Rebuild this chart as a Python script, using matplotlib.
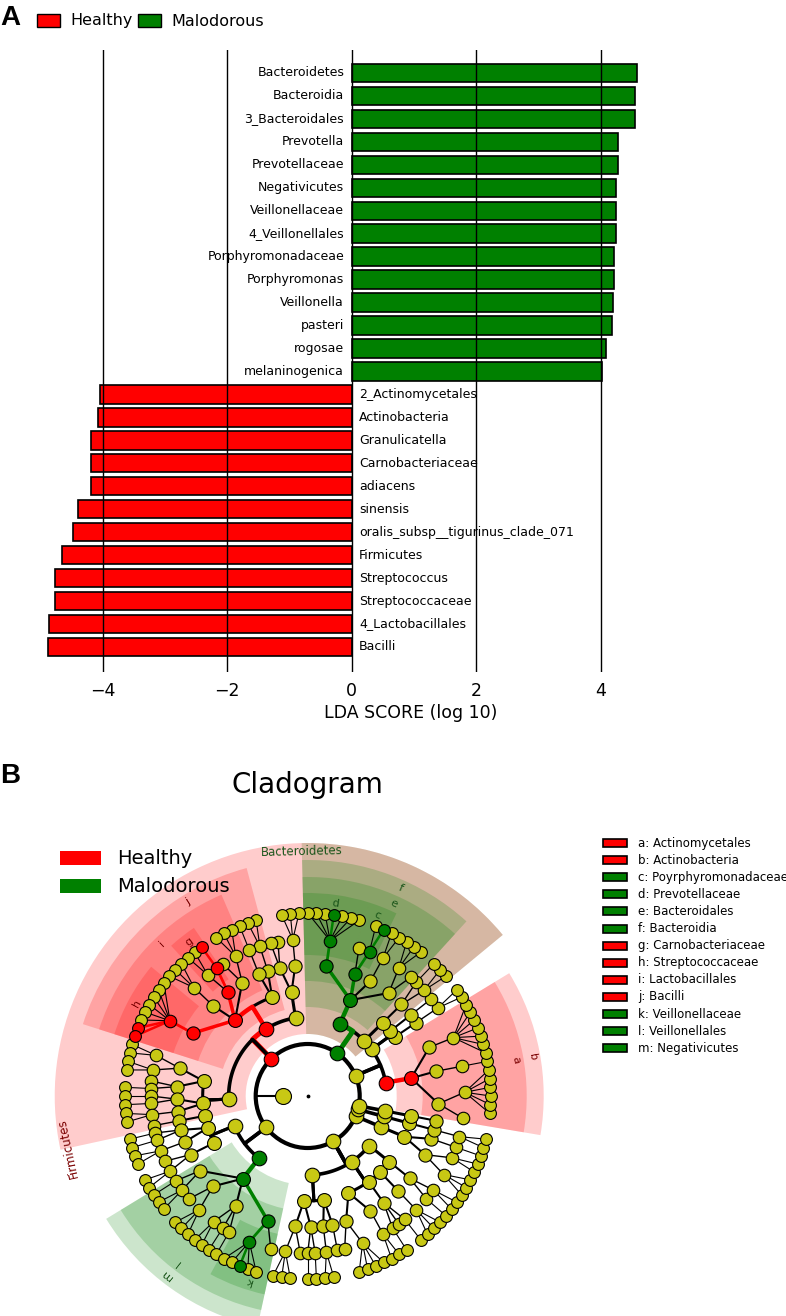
import numpy as np
import matplotlib.pyplot as plt
from matplotlib.patches import Wedge, Rectangle, Circle

W, H = 786, 1316

# ---- panel A : LDA scores
mal_taxa = ['Bacteroidetes', 'Bacteroidia', '3_Bacteroidales', 'Prevotella', 'Prevotellaceae',
            'Negativicutes', 'Veillonellaceae', '4_Veillonellales', 'Porphyromonadaceae',
            'Porphyromonas', 'Veillonella', 'pasteri', 'rogosae', 'melaninogenica']
mal_lda = [4.58, 4.56, 4.56, 4.28, 4.28, 4.25, 4.25, 4.25, 4.22, 4.22, 4.20, 4.18, 4.09, 4.03]
hea_taxa = ['2_Actinomycetales', 'Actinobacteria', 'Granulicatella', 'Carnobacteriaceae', 'adiacens',
            'sinensis', 'oralis_subsp__tigurinus_clade_071', 'Firmicutes', 'Streptococcus',
            'Streptococcaceae', '4_Lactobacillales', 'Bacilli']
hea_lda = [4.04, 4.07, 4.18, 4.18, 4.18, 4.40, 4.48, 4.66, 4.76, 4.76, 4.87, 4.88]
group_names = ['Healthy', 'Malodorous']
group_colors = ['#ff0000', '#008000']

# ---- panel B : cladogram
# int n -> node with n terminal children, list -> plain node,
# (group, label, children) -> biomarker node ('r' healthy, 'g' malodorous)
actino = [
    ('r', 'b', [('r', 'a', [[0, 6], [1], [7]])]),
    [[[2]], [[0]]],
]
bactero = ('g', 'Bacteroidetes', [
    [[[2, 1]]],
    ('g', 'f', [
        ('g', 'e', [
            [0, 3],
            [2],
            ('g', 'c', [('g', '', [('g', '', 0), 0]), 0]),
            ('g', 'd', [('g', '', [0, 0, 0, ('g', '', 0), 0, 0, 0])]),
        ]),
    ]),
])
firmi = ('r', 'Firmicutes', [
    [[[3], [0, 0]]],
    ('r', 'j', [
        [[2], [1]],
        ('r', 'i', [
            [3, 0],
            ('r', 'g', [('r', '', [('r', '', 0)]), 2]),
            [3],
            ('r', 'h', [('r', '', [0, 0, 0, 0, 0, 0, ('r', '', 0), ('r', '', 0)])]),
        ]),
    ]),
    [[[2, 2], [0, 1]], [[1, 1], [2]], [[0]]],
])
negati = [
    [[[1, 1], [2]], [[0, 2]]],
    ('g', 'm', [
        ('g', 'l', [
            [1, 2],
            [0, 3],
            [2, 1, 1],
            ('g', 'k', [('g', '', [0, 0, ('g', '', 0), 0, 0]), 0]),
        ]),
    ]),
]
proteo = [
    [[[3, 0], [1, 1]], [[2], [0]]],
    [[[0, 4], [2]], [[1, 0, 1]], [[3]]],
    [[[1, 2]]],
]
fuso = [[[[3, 2], [1]]]]
spiro = [[[[2]]]]
sacch = [[[0]]]
phyla = [actino, bactero, firmi, negati, proteo, fuso, spiro, sacch]

clade_letters = list('abcdefghijklm')
clade_names = ['Actinomycetales', 'Actinobacteria', 'Poyrphyromonadaceae', 'Prevotellaceae',
               'Bacteroidales', 'Bacteroidia', 'Carnobacteriaceae', 'Streptococcaceae',
               'Lactobacillales', 'Bacilli', 'Veillonellaceae', 'Veillonellales', 'Negativicutes']
clade_groups = ['r', 'r', 'g', 'g', 'g', 'g', 'r', 'r', 'r', 'r', 'g', 'g', 'g']

fig = plt.figure(figsize=(W / 100, H / 100), dpi=100)


def fx(x):
    return x / W


def fy(y):
    return 1 - y / H


# ================= A
ax = fig.add_axes([fx(40.45), fy(672), 740.55 / W, 622 / H])
n_h = len(hea_taxa)
ypos_m = np.arange(len(mal_taxa))[::-1] + n_h
ypos_h = np.arange(n_h)[::-1]
ax.barh(ypos_m, mal_lda, height=0.8, color=group_colors[1], edgecolor='black', lw=1.2)
ax.barh(ypos_h, -np.array(hea_lda), height=0.8, color=group_colors[0], edgecolor='black', lw=1.2)
for y, t in zip(ypos_m, mal_taxa):
    ax.text(-0.12, y, t, ha='right', va='center', fontsize=9)
for y, t in zip(ypos_h, hea_taxa):
    ax.text(0.12, y, t, ha='left', va='center', fontsize=9)
ax.set_xlim(-5, 6.9)
ax.set_ylim(-1.09, 26.0)
ax.set_xticks([-4, -2, 0, 2, 4])
ax.set_yticks([])
ax.grid(axis='x', color='black', lw=1)
ax.tick_params(axis='x', length=0, labelsize=12.5, pad=7)
for s in ax.spines.values():
    s.set_visible(False)
ax.set_xlabel('LDA SCORE (log 10)', fontsize=12.5, labelpad=3)

fig.text(fx(0), fy(25), 'A', fontsize=20, fontweight='bold', family='Liberation Sans')
for k, (name, col) in enumerate(zip(group_names, group_colors)):
    x0 = 37 + k * 101
    fig.patches.append(Rectangle((fx(x0), fy(27)), 23 / W, 13 / H, transform=fig.transFigure,
                                 fc=col, ec='black', lw=1))
    fig.text(fx(x0 + 33), fy(21), name, fontsize=11.5, va='center')

# ================= B
R = [0, 52, 79, 105, 131, 157, 183]
R_OUT = {1: 253, 2: 236, 3: 219, 4: 203}
R_LAB = {1: 245, 2: 228, 3: 211, 4: 194}
LW = {2: 2.6, 3: 2.2, 4: 1.5, 5: 1.0, 6: 0.8}
MS = {1: 10.5, 2: 10.5, 3: 10, 4: 9.5, 5: 9, 6: 8.5}
cmap = {'r': '#ff0000', 'g': '#008000', 'y': '#c8c814'}
tcol = {'r': '#7a0000', 'g': '#1a551a'}

nodes = []


def build(spec, level, parent):
    if isinstance(spec, tuple):
        col, lab, kids = spec
    else:
        col, lab, kids = 'y', '', spec
    if isinstance(kids, int):
        kids = [0] * kids
    me = len(nodes)
    nodes.append(dict(level=level, col=col, lab=lab, parent=parent, kids=[]))
    if parent is not None:
        nodes[parent]['kids'].append(me)
    for k in kids:
        build(k, level + 1, me)


for p in phyla:
    build(p, 1, None)

leaves = [i for i, n in enumerate(nodes) if not n['kids']]
step = 360 / len(leaves)
# rotate so that the Bacteroidetes wedge closes at the top of the circle
bact_i = next(i for i, n in enumerate(nodes) if n['lab'] == 'Bacteroidetes')
last_b = max(k for k, i in enumerate(leaves) if i > bact_i and i < next(
    j for j, n in enumerate(nodes) if n['lab'] == 'Firmicutes'))
start = 90 - last_b * step
for k, i in enumerate(leaves):
    nodes[i]['ang'] = start + k * step
    nodes[i]['lo'] = nodes[i]['hi'] = nodes[i]['ang']
for n in reversed(nodes):
    if n['kids']:
        n['ang'] = np.mean([nodes[k]['ang'] for k in n['kids']])
        n['lo'] = min(nodes[k]['lo'] for k in n['kids'])
        n['hi'] = max(nodes[k]['hi'] for k in n['kids'])


def pol(r, a):
    t = np.radians(a)
    return r * np.cos(t), r * np.sin(t)


axb = fig.add_axes([0, 0, 1, 556 / H])
axb.set_xlim(-307.7, W - 307.7)
axb.set_ylim(-220, 336)
axb.axis('off')

# shaded clades
bact = nodes[bact_i]
for n in sorted([n for n in nodes if n['lab']], key=lambda n: n['level']):
    lvl = n['level']
    if lvl > 4:
        continue
    lo, hi = n['lo'] - step / 2, n['hi'] + step / 2
    if n['lab'] == 'Firmicutes':
        lo = bact['lo'] - step / 2   # LEfSe shading also runs over the Bacteroidetes wedge
    axb.add_patch(Wedge((0, 0), R_OUT[lvl], lo, hi, width=R_OUT[lvl] - R[lvl] - 10,
                        fc=cmap[n['col']], alpha=0.2, lw=0, zorder=0))

# branches
axb.add_patch(Circle((0, 0), R[1], fill=False, lw=3, zorder=2))
for n in nodes:
    if n['parent'] is None:
        continue
    par = nodes[n['parent']]
    lvl = n['level']
    same = n['col'] == par['col'] and n['col'] != 'y'
    c = cmap[n['col']] if same else 'black'
    lw = LW[lvl] + (1.0 if same else 0)
    if lvl <= 3:
        a = np.linspace(par['ang'], n['ang'], 40)
        x0, y0 = pol(R[lvl - 1], par['ang'])
        xs, ys = pol(R[lvl], a)
        axb.plot(np.r_[x0, xs], np.r_[y0, ys], color=c, lw=lw, zorder=2, solid_capstyle='round')
    else:
        x0, y0 = pol(R[lvl - 1], par['ang'])
        x1, y1 = pol(R[lvl], n['ang'])
        axb.plot([x0, x1], [y0, y1], color=c, lw=lw, zorder=2, solid_capstyle='round')

# unplaced taxon near the root
xu, yu = pol(25, 180)
axb.plot([xu, -R[1]], [yu, 0], color='black', lw=1.5, zorder=2)
axb.scatter([xu], [yu], s=11.5 ** 2, c=cmap['y'], edgecolors='black', lw=0.8, zorder=3)
axb.scatter([0], [0], s=3, c='black', zorder=3)

for n in nodes:
    x, y = pol(R[n['level']], n['ang'])
    axb.scatter([x], [y], s=MS[n['level']] ** 2, c=cmap[n['col']], edgecolors='black',
                lw=0.8, zorder=4 if n['col'] != 'y' else 3)

# clade labels
for n in nodes:
    if not n['lab']:
        continue
    lvl = n['level']
    a = n['hi'] + step / 2 if lvl == 1 else n['ang']
    x, y = pol(R_LAB[lvl], a)
    axb.text(x, y, n['lab'], color=tcol[n['col']], fontsize=8.5 if lvl == 1 else 8,
             rotation=a - 90, rotation_mode='anchor', ha='center', va='center', zorder=5)

fig.text(fx(0), fy(783), 'B', fontsize=20, fontweight='bold', family='Liberation Sans')
fig.text(fx(307.5), fy(793), 'Cladogram', fontsize=20, ha='center', va='baseline')

for k, (name, col) in enumerate(zip(group_names, group_colors)):
    yc = 858 + 28 * k
    fig.patches.append(Rectangle((fx(60), fy(yc + 7)), 41 / W, 14 / H, transform=fig.transFigure,
                                 fc=col, ec='none'))
    fig.text(fx(117), fy(yc), name, fontsize=14, va='center')

for k, (let, name, g) in enumerate(zip(clade_letters, clade_names, clade_groups)):
    yc = 843 + 17.1 * k
    fig.patches.append(Rectangle((fx(603), fy(yc + 4)), 24 / W, 8 / H, transform=fig.transFigure,
                                 fc=cmap[g], ec='black', lw=1.2))
    fig.text(fx(638), fy(yc), f'{let}: {name}', fontsize=8.5, va='center')

fig.savefig('out.png', dpi=100)
